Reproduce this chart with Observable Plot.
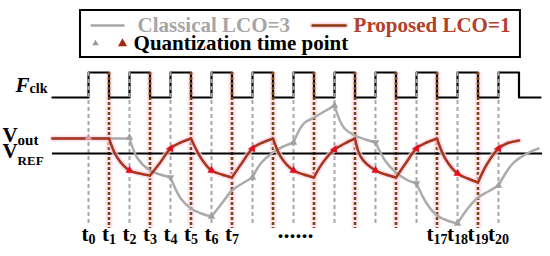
<!DOCTYPE html>
<html><head><meta charset="utf-8">
<script src="https://cdn.jsdelivr.net/npm/d3@7"></script>
<script src="https://cdn.jsdelivr.net/npm/@observablehq/plot@0.6"></script>
<style>
html,body{margin:0;padding:0;background:#fff;}
#chart svg{display:block}
#chart svg text, #chart svg tspan { font-family: "Liberation Serif", "Times New Roman", serif !important; }
</style>
</head><body><div id="chart"></div>
<script>
// ---- data ----
const tickT = [0, 1, 2, 3, 4, 5, 6, 7, 17, 18, 19, 20];
const tickLabels = ["t_0","t_1","t_2","t_3","t_4","t_5","t_6","t_7","t_17","t_18","t_19","t_20"];

const clockT =     [-1.76, 0, 1, 2, 3, 4, 5, 6, 7, 8, 9, 10, 11, 12, 13, 14, 15, 16, 17, 18, 19, 20, 21, 22.05];
const clockState = [0,     1, 0, 1, 0, 1, 0, 1, 0, 1, 0, 1,  0,  1,  0,  1,  0,  1,  0,  1,  0,  1,  0,  0];
const clockLow = 5.6, clockHigh = 8.1;
const vRef = 0;

const risingEdgeT = [0, 2, 4, 6, 8, 10, 12, 14, 16, 18, 20];
const fallingEdgeT = [1, 3, 5, 7, 9, 11, 13, 15, 17, 19];

// Proposed LCO=1 (V_out, arbitrary units, V_REF = 0)
const proposedT = [-1.76, 1, 1.4, 2, 2.5, 3, 3.5, 4, 4.5, 5, 5.5, 6, 6.5, 7, 7.5, 8, 8.5, 9,
  9.4, 10, 10.5, 11, 11.4, 12, 12.5, 13, 13.3, 14, 14.5, 15, 15.5, 16, 16.5, 17,
  17.4, 18, 18.5, 19, 19.4, 20, 20.4, 21];
const proposedV = [1.5, 1.5, -0.4, -1.7, -2.0, -2.2, -0.9, 0.5, 1.1, 1.5, -0.5, -1.7, -2.1, -2.4, -0.9, 0.5, 1.1, 1.5,
  -0.4, -1.7, -2.1, -2.4, -1.0, 0.4, 1.0, 1.5, -0.4, -1.7, -2.1, -2.4, -0.9, 0.5, 1.1, 1.5,
  -0.5, -2.0, -2.5, -2.9, -1.2, 0.5, 1.0, 1.3];
const proposedCusps = [1, 3, 5, 7, 9, 11, 13, 15, 17, 19];
const proposedMarkT = [2, 4, 6, 8, 10, 12, 14, 16, 18, 20];
const proposedMarkV = [-1.7, 0.5, -1.7, 0.5, -1.7, 0.4, -1.7, 0.5, -2.0, 0.5];

// Classical LCO=3
const classicalT = [-1.76, 2, 2.4, 3, 3.5, 4, 4.5, 5, 5.5, 6, 6.5, 7, 7.5, 8, 8.4, 9, 9.5, 10,
  10.5, 11, 11.5, 12, 12.45, 13, 13.5, 14, 14.5, 15, 15.5, 16, 16.5, 17, 17.5, 18,
  18.5, 19, 19.5, 20, 20.7, 21.4, 21.95];
const classicalV = [1.5, 1.5, -0.5, -1.7, -2.1, -2.4, -4.5, -5.5, -6.0, -6.3, -5.0, -3.7, -3.0, -2.4, -1.0, 0.1, 0.7, 1.1,
  3.0, 3.6, 4.2, 4.8, 2.6, 1.8, 1.4, 1.1, -0.8, -1.9, -2.6, -3.0, -5.0, -6.2, -6.7, -7.0,
  -5.5, -4.4, -3.8, -3.2, -1.0, 0.0, 0.5];
const classicalCusps = [2, 4, 6, 8, 10, 12, 14, 16, 18, 20];
const classicalMarkT = [0, 2, 4, 6, 8, 10, 12, 14, 16, 18, 20];
const classicalMarkV = [1.6, 1.6, -2.4, -6.3, -2.4, 1.1, 4.8, 1.1, -3.0, -7.0, -3.2];

const legendLabels = ["Classical LCO=3", "Proposed LCO=1", "Quantization time point"];
const sideLabels = ["F_clk", "V_out", "V_REF"];

// ---- build tables ----
function segments(T, V, cusps) {
  const out = []; let seg = 0;
  for (let i = 0; i < T.length; i++) {
    out.push({t: T[i], v: V[i], seg});
    if (cusps.includes(T[i]) && i > 0 && i < T.length - 1) { seg++; out.push({t: T[i], v: V[i], seg}); }
  }
  return out;
}
const proposed = segments(proposedT, proposedV, proposedCusps);
const classical = segments(classicalT, classicalV, classicalCusps);
const clock = clockT.map((t, i) => ({t, v: clockState[i] ? clockHigh : clockLow}));
const pMarks = proposedMarkT.map((t, i) => ({t, v: proposedMarkV[i], rot: proposedMarkV[i] > -1 ? -95 : 0}));
const cMarks = classicalMarkT.map((t, i) => {
  const p = classicalMarkV[i - 1], n = classicalMarkV[i + 1], v = classicalMarkV[i];
  return {t, v, rot: (p !== undefined && n !== undefined && p > v && v > n) ? 180 : 0};
});
const ticks = tickT.map((t, i) => ({t, label: tickLabels[i]}));

const ruleTop = clockHigh, grayBottom = -7.3, brownBottom = -7.5;
const GRAY = "#a8a8a8", BROWN = "#7b4513", RED = "#e3101c", CURVE = "#a8361c";
const FONT = "Liberation Serif";
const txt = {lineAnchor: "bottom", fontWeight: "bold", fontFamily: FONT};

const svg = Plot.plot({
  width: 550, height: 256,
  marginLeft: 88, marginRight: 52, marginTop: 0, marginBottom: 0,
  x: {domain: [0, 20], axis: null},
  y: {domain: [-10.3, 15.3], axis: null},
  style: {fontFamily: FONT, background: "white", overflow: "visible"},
  marks: [
    // legend box
    Plot.rect([0], {x1: -0.39, x2: 21.07, y1: 9.6, y2: 14.3, fill: "white", stroke: "black", strokeWidth: 2}),
    Plot.line([[0.15, 12.8], [1.71, 12.8]], {stroke: GRAY, strokeWidth: 2.5}),
    Plot.text([legendLabels[0]], {...txt, x: 2.39, y: 12.2, text: d => d, textAnchor: "start", fontSize: 21, fill: "#a6a6a6"}),
    Plot.line([[10.93, 12.8], [12.54, 12.8]], {stroke: "#fbd9e6", strokeWidth: 6}),
    Plot.line([[10.93, 12.8], [12.54, 12.8]], {stroke: "#8b3a0e", strokeWidth: 2.5}),
    Plot.text([legendLabels[1]], {...txt, x: 12.93, y: 12.2, text: d => d, textAnchor: "start", fontSize: 21, fill: "#b3402b"}),
    Plot.dot([[0.34, 11.0]], {symbol: "triangle", r: 2.4, fill: "#9a9a9a", stroke: "none"}),
    Plot.dot([[1.66, 11.0]], {symbol: "triangle", r: 3.4, fill: "#a52a10", stroke: "none"}),
    Plot.text([legendLabels[2]], {...txt, x: 2.2, y: 10.4, text: d => d, textAnchor: "start", fontSize: 21, fill: "black"}),

    // pink glow behind brown lines
    Plot.ruleX(fallingEdgeT, {x: d => d, y1: ruleTop, y2: brownBottom, stroke: "#fde6f0", strokeWidth: 7}),
    // clock
    Plot.line(clock, {x: "t", y: "v", curve: "step-after", stroke: "black", strokeWidth: 2.2}),
    // dashed guides
    Plot.ruleX(risingEdgeT, {x: d => d, y1: ruleTop, y2: grayBottom, stroke: GRAY, strokeWidth: 2, strokeDasharray: "4,3"}),
    Plot.ruleX(fallingEdgeT, {x: d => d, y1: ruleTop, y2: brownBottom, stroke: BROWN, strokeWidth: 2.6, strokeDasharray: "3,2"}),
    // V_REF
    Plot.ruleY([vRef], {x1: -1.76, x2: 22.15, stroke: "black", strokeWidth: 2.2}),
    // curves
    Plot.line(proposed, {x: "t", y: "v", z: "seg", curve: "catmull-rom", stroke: "#f9d3e3", strokeWidth: 6, strokeOpacity: 0.7}),
    Plot.line(classical, {x: "t", y: "v", z: "seg", curve: "catmull-rom", stroke: "#ababab", strokeWidth: 2.5}),
    Plot.line(proposed, {x: "t", y: "v", z: "seg", curve: "catmull-rom", stroke: CURVE, strokeWidth: 2.5}),
    Plot.dot(cMarks, {x: "t", y: "v", rotate: "rot", symbol: "triangle", r: 2.8, fill: (d) => d.t === 0 ? "#d8a0a8" : "#a0a0a0", stroke: "none"}),
    Plot.dot(pMarks, {x: "t", y: "v", rotate: "rot", symbol: "triangle", r: 3.0, fill: RED, stroke: "none"}),

    // labels
    Plot.text([sideLabels[0]], {...txt, x: -3.56, y: 6.2, text: d => d, textAnchor: "start", fontSize: 21, fill: "black"}),
    Plot.text([sideLabels[1]], {...txt, x: -4.2, y: 1.2, text: d => d, textAnchor: "start", fontSize: 21, fill: "black"}),
    Plot.text([sideLabels[2]], {...txt, x: -4.2, y: -0.4, text: d => d, textAnchor: "start", fontSize: 21, fill: "black"}),
    Plot.text(ticks, {...txt, x: "t", y: -8.7, text: "label", textAnchor: "middle", fontSize: 21, fill: "black"}),
    Plot.text(["......"], {...txt, x: 10.1, y: -8.4, text: d => d, textAnchor: "middle", fontSize: 24, fill: "black"})
  ]
});

// subscripts: "base_sub" -> base + lowered smaller sub
const subStyle = {F: [14, 1, true], V: [15, 3, false], t: [14, 3, false]};
d3.select(svg).selectAll("text").each(function() {
  const s = this.textContent;
  if (!s.includes("_")) return;
  const [a, b] = s.split("_");
  let [size, dy, italic] = subStyle[a] || [14, 3, false];
  if (b === "REF") { size = 13; dy = 7; }
  const el = d3.select(this);
  el.text(null);
  const base = el.append("tspan").text(a);
  if (italic) base.attr("font-style", "italic");
  el.append("tspan").attr("font-size", size).attr("dy", dy).text(b);
});

document.getElementById("chart").append(svg);
</script></body></html>
